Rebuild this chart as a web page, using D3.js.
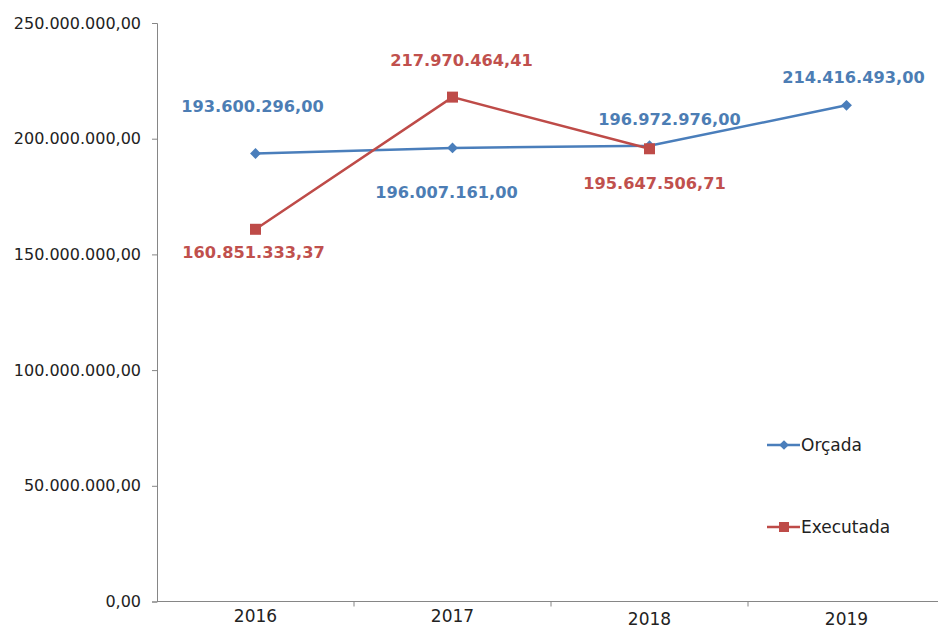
<!DOCTYPE html>
<html>
<head>
<meta charset="utf-8">
<script src="https://cdn.jsdelivr.net/npm/d3@7"></script>
<style>
  body { margin: 0; background: #fff; overflow: hidden; }
  text { font-family: "DejaVu Sans", Verdana, sans-serif; }
</style>
</head>
<body>
<div id="chart"></div>
<script>
var WIDTH = 938
var HEIGHT = 629

var years = ["2016", "2017", "2018", "2019"]
var orcada = [193600296.00, 196007161.00, 196972976.00, 214416493.00]
var executada = [160851333.37, 217970464.41, 195647506.71]
var yTicks = [0, 50000000, 100000000, 150000000, 200000000, 250000000]

// where each data label sits relative to its point (dx, dy of text centre)
var orcadaLabelPos = [[-3, -47], [-6, 44], [20, -27], [7, -28]]
var executadaLabelPos = [[-2, 23], [9, -37], [5, 34]]

var blue = "#4a7ebb", blueText = "#4c7db4"
var red = "#be4b48", redText = "#c0504d"

var svg = d3.select("#chart").append("svg")
  .attr("width", WIDTH)
  .attr("height", HEIGHT)

var x0 = 157, x1 = 945
var y = d3.scaleLinear().domain([0, 250000000]).range([601.5, 23])
var x = d3.scaleBand().domain(years).range([x0, x1])
var cx = function(i) { return x(years[i]) + x.bandwidth() / 2 }

var fmt = function(v) {
  var s = v.toFixed(2).split(".")
  return s[0].replace(/\B(?=(\d{3})+(?!\d))/g, ".") + "," + s[1]
}

// y axis
var yAxis = d3.axisLeft(y).tickValues(yTicks).tickSize(5).tickPadding(11).tickFormat(fmt)
var gy = svg.append("g").attr("transform", "translate(" + x0 + ",0)").call(yAxis)
gy.select(".domain").attr("stroke", "#868686")
gy.selectAll(".tick line").attr("stroke", "#868686")
gy.selectAll(".tick text").attr("fill", "#222").style("font-size", "16px")

// x axis
svg.append("line")
  .attr("x1", x0).attr("x2", x1)
  .attr("y1", y(0)).attr("y2", y(0))
  .attr("stroke", "#868686")
svg.selectAll(".xtick")
  .data(years.slice(1))
  .enter().append("line")
  .attr("class", "xtick")
  .attr("x1", function(d) { return x(d) }).attr("x2", function(d) { return x(d) })
  .attr("y1", y(0)).attr("y2", y(0) + 5)
  .attr("stroke", "#868686")
svg.selectAll(".xlab")
  .data(years)
  .enter().append("text")
  .attr("class", "xlab")
  .attr("x", function(d, i) { return cx(i) })
  .attr("y", function(d, i) { return i < 2 ? 622 : 624.5 })
  .attr("text-anchor", "middle")
  .attr("fill", "#222")
  .style("font-size", "17px")
  .text(function(d) { return d })

var line = d3.line()
  .x(function(d, i) { return cx(i) })
  .y(function(d) { return y(d) })

// Orçada
svg.append("path").datum(orcada)
  .attr("d", line).attr("fill", "none")
  .attr("stroke", blue).attr("stroke-width", 2.5)
svg.selectAll(".dia").data(orcada).enter().append("path")
  .attr("class", "dia")
  .attr("d", d3.symbol().type(d3.symbolDiamond2).size(75))
  .attr("transform", function(d, i) { return "translate(" + cx(i) + "," + y(d) + ")" })
  .attr("fill", blue)

// Executada
svg.append("path").datum(executada)
  .attr("d", line).attr("fill", "none")
  .attr("stroke", red).attr("stroke-width", 2.5)
svg.selectAll(".sq").data(executada).enter().append("rect")
  .attr("class", "sq")
  .attr("x", function(d, i) { return cx(i) - 5.5 })
  .attr("y", function(d) { return y(d) - 5.5 })
  .attr("width", 11).attr("height", 11)
  .attr("fill", red)

// data labels
svg.selectAll(".lo").data(orcada).enter().append("text")
  .attr("class", "lo")
  .attr("x", function(d, i) { return cx(i) + orcadaLabelPos[i][0] })
  .attr("y", function(d, i) { return y(d) + orcadaLabelPos[i][1] })
  .attr("dy", "0.36em")
  .attr("text-anchor", "middle")
  .attr("fill", blueText)
  .style("font-size", "16.2px").style("font-weight", "bold")
  .text(fmt)
svg.selectAll(".le").data(executada).enter().append("text")
  .attr("class", "le")
  .attr("x", function(d, i) { return cx(i) + executadaLabelPos[i][0] })
  .attr("y", function(d, i) { return y(d) + executadaLabelPos[i][1] })
  .attr("dy", "0.36em")
  .attr("text-anchor", "middle")
  .attr("fill", redText)
  .style("font-size", "16.2px").style("font-weight", "bold")
  .text(fmt)

// legend
var legend = [
  { name: "Orçada", color: blue, y: 445, shape: "diamond" },
  { name: "Executada", color: red, y: 527, shape: "square" }
]
var lg = svg.selectAll(".legend").data(legend).enter().append("g")
  .attr("class", "legend")
  .attr("transform", function(d) { return "translate(767," + d.y + ")" })
lg.append("line")
  .attr("x1", 0).attr("x2", 33).attr("y1", 0).attr("y2", 0)
  .attr("stroke", function(d) { return d.color }).attr("stroke-width", 2.5)
lg.each(function(d) {
  var g = d3.select(this)
  if (d.shape == "diamond") {
    g.append("path")
      .attr("d", d3.symbol().type(d3.symbolDiamond2).size(60))
      .attr("transform", "translate(17,0)")
      .attr("fill", d.color)
  } else {
    g.append("rect")
      .attr("x", 12).attr("y", -5).attr("width", 10).attr("height", 10)
      .attr("fill", d.color)
  }
})
lg.append("text")
  .attr("x", 34).attr("y", 0).attr("dy", "0.36em")
  .attr("fill", "#222")
  .style("font-size", "17px")
  .text(function(d) { return d.name })
</script>
</body>
</html>
